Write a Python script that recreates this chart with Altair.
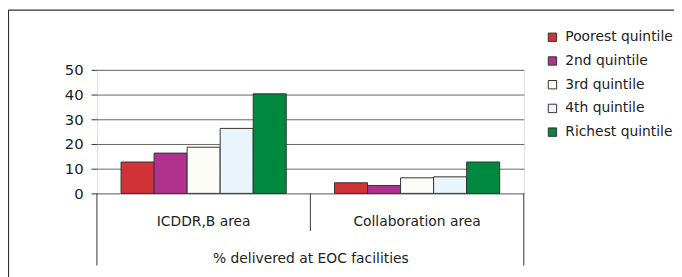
import altair as alt
import pandas as pd

areas = ["ICDDR,B area", "Collaboration area"]
quintiles = ["Poorest quintile", "2nd quintile", "3rd quintile", "4th quintile", "Richest quintile"]
icddrb = [12.7, 16.3, 18.7, 26.3, 40.3]
collab = [4.3, 3.2, 6.3, 6.7, 12.7]
colors = ["#d13438", "#b3318e", "#fcfdf7", "#eaf5fb", "#00883f"]
axis_title = "% delivered at EOC facilities"

rows = []
for q, v in zip(quintiles, icddrb):
    rows.append({"area": areas[0], "quintile": q, "value": v})
for q, v in zip(quintiles, collab):
    rows.append({"area": areas[1], "quintile": q, "value": v})
df = pd.DataFrame(rows)

W, H = 432, 125
FONT = "DejaVu Sans"

x_enc = alt.X("area:N", sort=areas,
              scale=alt.Scale(paddingInner=0, paddingOuter=0),
              axis=alt.Axis(title=axis_title, ticks=False, domain=False,
                            labelAngle=0, labelFontSize=14, labelPadding=22,
                            labelColor="#222", titleFontSize=14, titleFontWeight="normal",
                            titleColor="#222", titlePadding=23, titleFont=FONT, labelFont=FONT))

bars = alt.Chart(df).mark_bar(stroke="#333333", strokeWidth=1).encode(
    x=x_enc,
    xOffset=alt.XOffset("quintile:N", sort=quintiles,
                        scale=alt.Scale(paddingInner=0, paddingOuter=0.73)),
    y=alt.Y("value:Q", scale=alt.Scale(domain=[0, 50]),
            axis=alt.Axis(title=None, values=[0, 10, 20, 30, 40, 50], tickSize=6,
                          tickColor="#333", labelFontSize=15, labelPadding=8,
                          labelColor="#222", labelFont=FONT, gridColor="#666",
                          gridWidth=1, domain=False)),
    color=alt.Color("quintile:N", sort=quintiles,
                    scale=alt.Scale(domain=quintiles, range=colors),
                    legend=alt.Legend(title=None, orient="none", legendX=454, legendY=-40,
                                      symbolType="square", symbolSize=72,
                                      symbolStrokeColor="#333", symbolStrokeWidth=1,
                                      labelFontSize=14, labelFont=FONT, labelColor="#222",
                                      rowPadding=10, labelOffset=6)),
)

div_df = pd.DataFrame({"area": [areas[1]]})
divider = alt.Chart(div_df).mark_rule(color="#333", strokeWidth=1).encode(
    x=alt.X("area:N", sort=areas, bandPosition=0),
    y=alt.value(H),
    y2=alt.value(H + 38),
)

side_df = pd.DataFrame({"side": ["left", "right"], "px": [0, W]})
sides = alt.Chart(side_df).mark_rule(color="#333", strokeWidth=1).encode(
    x=alt.X("px:Q", scale=None),
    y=alt.value(H),
    y2=alt.value(H + 73),
)

frame_df = pd.DataFrame({"x1": [-89.5, -89.5], "x2": [600, -89.5],
                         "y1": [-60.5, -60.5], "y2": [-60.5, 220]})
frame = alt.Chart(frame_df).mark_rule(color="#333", strokeWidth=1.2).encode(
    x=alt.X("x1:Q", scale=None), x2="x2:Q",
    y=alt.Y("y1:Q", scale=None), y2="y2:Q",
)

chart = alt.layer(bars, divider, sides, frame).properties(
    width=W, height=H,
    autosize=alt.AutoSizeParams(type="none"),
    padding={"left": 90, "top": 61, "right": 152, "bottom": 83},
).configure_view(stroke="#333", strokeWidth=1).configure(font=FONT, background="white")

chart.save("out.html", embed_options={"renderer": "svg", "actions": False})
